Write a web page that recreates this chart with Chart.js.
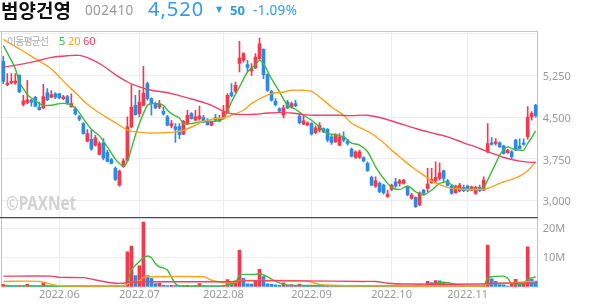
<!DOCTYPE html>
<html><head><meta charset="utf-8">
<script src="https://cdn.jsdelivr.net/npm/chart.js@4.4.1/dist/chart.umd.min.js"></script>
<style>
html,body{margin:0;padding:0;background:#fff;width:594px;height:304px;overflow:hidden;font-family:'Noto Sans','Noto Sans CJK KR',sans-serif;}
#wrap{position:relative;width:594px;height:304px;}
canvas{position:absolute;left:0;}
#c1{top:0;} #c2{top:217px;}
.t{position:absolute;white-space:nowrap;line-height:1;}
</style></head><body>
<div id="wrap">
<canvas id="c1" width="594" height="217"></canvas>
<canvas id="c2" width="594" height="87"></canvas>
<div class="t" style="left:1px;top:0px;font-size:19px;font-weight:bold;color:#111;font-family:'Noto Sans CJK KR'">범양건영</div>
<div class="t" style="left:85px;top:4px;font-size:13.5px;color:#999;letter-spacing:0.4px">002410</div>
<div class="t" style="left:148px;top:-1px;font-size:20px;color:#2f9bef;letter-spacing:1px">4,520</div>
<div class="t" style="left:216px;top:6px;font-size:8px;color:#2f9bef;font-family:'DejaVu Sans'">▼</div>
<div class="t" style="left:230px;top:4px;font-size:13px;font-weight:bold;color:#2f9bef">50</div>
<div class="t" style="left:253px;top:4px;font-size:13.5px;color:#2f9bef;letter-spacing:0.3px">-1.09%</div>
<div class="t" style="left:7px;top:36px;font-size:10px;color:#aaa;letter-spacing:-1px;font-family:'Noto Sans CJK KR'">이동평균선</div>
<div class="t" style="left:59px;top:35px;font-size:11px;color:#3cba3c">5</div>
<div class="t" style="left:68px;top:35px;font-size:11px;color:#fba21c">20</div>
<div class="t" style="left:83px;top:35px;font-size:11px;color:#f0406a">60</div>
<div class="t" style="left:6px;top:194px;font-size:19px;font-weight:bold;color:#d2d2d2;transform:scaleX(0.8);transform-origin:left top">©PAXNet</div>
</div>
<script>
// ---- data ----
const FIRST_DAY = '2022-05-12';
const HOLIDAYS = ['2022-06-01','2022-06-06','2022-08-15','2022-09-09','2022-09-12','2022-10-03','2022-10-10'];

const opens = [5500,5083,5112,5112,5250,4730,4760,4800,4856,4676,
4665,4940,4856,4916,4916,4832,4868,4683,4653,4503,
4384,4067,4103,3996,3829,4040,3870,3740,3579,3281,
3609,3728,4324,4712,4563,4712,5100,4832,4730,4682,
4605,4503,4342,4325,4330,4193,4384,4563,4444,4473,
4491,4426,4354,4485,4473,4473,4593,4939,4963,5465,
5518,5441,5327,5381,5548,5715,5262,4963,4784,4653,
4533,4772,4682,4742,4520,4373,4355,4385,4223,4265,
4294,4282,4145,4056,3996,4145,4068,3920,3776,3776,
3776,3669,3418,3263,3311,3281,3072,3203,3340,3311,
3311,3239,3042,3060,2923,3191,3221,3322,3358,3400,
3537,3358,3263,3143,3179,3239,3263,3191,3131,3239,
3191,3877,4039,4027,4039,3979,3860,3878,4087,3979,
4039,4150,4505,4710];
const highs = [5596,5280,5280,5280,5262,4890,5160,4820,4874,4772,
5088,5010,4975,4940,4927,4892,4892,4920,4683,4533,
4402,4276,4265,4175,4056,4115,3906,3760,3609,3549,
3758,4503,5082,4891,4981,5411,5130,4844,4772,4802,
4682,4533,4444,4384,4384,4444,4623,4581,4623,4700,
4533,4473,4426,4551,4533,4712,4921,5100,5130,5858,
5656,5518,5459,5638,5918,5727,5280,4981,4832,4665,
4712,4802,4772,4802,4560,4533,4414,4402,4342,4402,
4306,4294,4175,4205,4205,4235,4103,3948,3896,3907,
3788,3698,3442,3430,3340,3300,3191,3299,3400,3382,
3382,3251,3131,3072,3161,3203,3579,3579,3699,3681,
3549,3382,3281,3281,3311,3281,3281,3263,3263,3281,
3430,4386,4134,4116,4057,3997,3920,3900,4100,4110,
4110,4690,4600,4730];
const lows = [5100,5060,5094,5088,4940,4700,4742,4695,4683,4623,
4652,4796,4843,4832,4832,4814,4730,4677,4533,4438,
4193,4056,3906,3978,3817,3730,3697,3660,3358,3263,
3597,3709,4306,4533,4503,4700,4802,4533,4653,4653,
4533,4342,4306,4045,4115,4187,4366,4461,4432,4444,
4402,4354,4342,4432,4414,4461,4581,4861,4939,5309,
5488,5309,5250,5369,5536,5190,4963,4784,4700,4581,
4485,4653,4665,4688,4380,4366,4345,4175,4205,4235,
4223,4056,4008,4044,3984,4056,3996,3787,3758,3758,
3698,3525,3269,3239,3143,3119,3060,3179,3239,3263,
3299,3084,3030,2881,2905,3102,3161,3311,3322,3370,
3340,3263,3119,3131,3161,3161,3161,3179,3113,3161,
3179,3859,3997,3997,3955,3836,3848,3760,3900,3925,
3995,4099,4445,4500];
const closes = [5140,5112,5142,5148,4950,4790,4808,4770,4695,4635,
4868,4814,4904,4856,4844,4862,4748,4742,4557,4462,
4205,4205,3924,4127,4026,3770,3705,3670,3382,3531,
3717,4324,4682,4545,4772,4933,4832,4742,4665,4730,
4557,4354,4384,4278,4185,4426,4533,4473,4503,4521,
4414,4366,4414,4444,4426,4593,4891,4879,5070,5560,
5638,5393,5369,5578,5817,5262,4981,4802,4724,4605,
4665,4665,4742,4700,4400,4433,4397,4200,4310,4354,
4235,4086,4044,4187,4145,4086,4026,3800,3878,3878,
3716,3537,3281,3358,3161,3143,3119,3281,3263,3358,
3370,3102,3102,2893,3143,3131,3299,3382,3418,3502,
3400,3275,3131,3263,3281,3179,3191,3251,3239,3179,
3370,4027,4009,4057,3967,3848,3908,3788,3908,3937,
4009,4500,4570,4520];
// volume in millions of shares
const volumes = [0.9,0.5,0.4,0.4,0.5,0.4,0.9,0.4,0.4,0.4,
1.4,0.5,0.4,0.3,0.3,0.3,0.4,0.3,0.4,0.3,
0.4,0.4,0.4,0.3,0.4,0.3,0.3,0.3,0.6,0.4,
0.5,12.0,14.0,3.9,7.2,22.2,3.9,3.0,1.2,1.3,
0.6,0.5,0.6,0.5,0.4,0.5,0.6,0.4,0.5,1.2,
0.5,0.4,0.4,0.4,0.3,0.5,2.5,1.8,2.1,12.6,
3.0,1.1,1.0,2.1,6.0,3.6,1.1,0.9,0.7,0.6,
1.4,0.6,0.7,0.6,1.0,0.6,0.5,0.6,0.5,0.4,
0.4,0.5,0.4,0.5,0.4,0.3,0.3,0.4,0.3,0.3,
0.3,0.3,0.6,0.6,0.5,0.4,0.3,0.3,0.3,0.3,
0.3,0.3,0.3,0.7,0.8,0.5,1.9,1.5,2.2,2.1,
1.5,0.9,0.6,0.6,0.5,0.4,0.4,0.4,0.5,0.4,
0.5,14.3,2.8,1.9,0.8,0.7,0.3,0.9,2.6,0.9,
1.1,13.7,2.6,2.0];

// moving-average lines: [candle index, value]
const ma5 = [[0,5787],[2,5518],[3,5369],[4,5130],[5,5011],[6,4903],[7,4844],[8,4796],[9,4742],[10,4715],[12,4712],[14,4742],[16,4742],[17,4712],[18,4665],[19,4581],[20,4473],[22,4282],[24,4163],[26,3966],[28,3745],[29,3667],[30,3620],[31,3709],[32,3936],[33,4175],[34,4384],[35,4563],[36,4712],[37,4742],[38,4742],[39,4742],[40,4712],[41,4623],[42,4563],[43,4521],[44,4485],[45,4384],[47,4384],[49,4414],[51,4426],[53,4426],[55,4473],[57,4772],[59,5041],[61,5309],[63,5441],[64,5518],[65,5459],[67,5190],[69,4951],[71,4712],[73,4641],[75,4533],[77,4444],[79,4324],[81,4205],[83,4187],[85,4145],[87,4035],[89,3997],[91,3878],[93,3609],[95,3400],[97,3239],[99,3203],[101,3263],[103,3161],[105,3101],[107,3191],[109,3310],[111,3334],[113,3239],[115,3203],[117,3203],[119,3203],[120,3239],[121,3370],[122,3520],[123,3669],[124,3818],[125,3919],[126,3967],[127,3937],[129,3907],[130,3907],[131,4027],[132,4134],[133,4254]];
const ma20 = [[0,5894],[4,5727],[8,5548],[11,5417],[13,5297],[16,5071],[18,4939],[21,4730],[23,4623],[26,4485],[28,4402],[31,4265],[33,4235],[36,4217],[39,4217],[41,4223],[43,4235],[45,4265],[48,4354],[50,4426],[53,4473],[55,4485],[57,4533],[60,4623],[62,4742],[65,4862],[67,4921],[70,4951],[72,4981],[75,4981],[77,4963],[79,4862],[82,4682],[85,4533],[87,4390],[90,4278],[92,4206],[95,4039],[97,3908],[100,3728],[102,3609],[105,3460],[107,3352],[110,3263],[112,3221],[115,3203],[117,3203],[120,3203],[121,3221],[123,3281],[125,3340],[127,3382],[129,3442],[131,3537],[133,3699]];
const ma60 = [[0,5399],[4,5441],[8,5500],[12,5572],[16,5602],[19,5608],[22,5536],[25,5417],[28,5262],[31,5130],[34,5041],[37,4981],[40,4951],[43,4903],[46,4844],[49,4784],[52,4712],[55,4605],[57,4563],[60,4545],[63,4551],[66,4575],[69,4581],[72,4575],[75,4545],[78,4533],[81,4533],[84,4533],[87,4527],[91,4534],[95,4475],[99,4385],[103,4296],[107,4218],[111,4146],[115,4039],[119,3937],[121,3878],[123,3830],[125,3776],[127,3740],[129,3710],[131,3693],[133,3687]];
const vma5 = [[0,0.6],[2,0.4],[30,0.4],[31,1.2],[32,5.8],[34,8.7],[35,10.0],[36,10.6],[37,10.0],[38,8.0],[39,6.9],[40,6.5],[41,5.8],[42,3.4],[43,1.1],[44,0.4],[55,0.4],[56,0.8],[57,1.0],[58,1.5],[59,3.9],[60,4.3],[63,4.3],[64,4.6],[65,4.1],[66,3.5],[67,2.7],[68,2.0],[69,1.4],[70,0.9],[72,0.6],[74,0.5],[105,0.4],[106,0.8],[108,1.3],[110,1.6],[112,1.2],[114,0.6],[116,0.4],[120,0.5],[121,3.1],[122,3.5],[125,3.7],[126,3.0],[127,1.2],[129,1.0],[130,1.2],[131,2.7],[132,3.1],[133,3.4]];
const vma20 = [[0,1.9],[9,1.9],[13,0.6],[15,0.4],[30,0.4],[31,1.0],[32,1.7],[34,2.1],[35,3.3],[36,3.5],[50,3.5],[51,3.0],[52,2.3],[55,1.5],[58,1.6],[59,2.2],[70,2.2],[74,2.1],[76,2.0],[79,0.9],[82,0.6],[88,0.4],[120,0.4],[121,1.1],[125,1.3],[131,1.8],[133,1.9]];
const vma60 = [[0,3.7],[12,3.7],[14,3.3],[20,3.2],[22,2.7],[25,1.9],[28,1.3],[30,1.3],[31,1.6],[35,1.8],[56,1.8],[58,1.9],[60,2.1],[74,2.1],[90,1.9],[93,1.9],[96,1.3],[100,1.0],[120,1.0],[122,1.3],[133,1.3]];

const priceTicks = [3000,3750,4500,5250,6000];
const priceTickLabels = ['3,000','3,750','4,500','5,250',''];
const volTicks = [0,10,20];
const volTickLabels = ['','10M','20M'];

// ---- styles ----
const UP='#f23a4c', DOWN='#2c8ae6', C5='#3cba3c', C20='#fba21c', C60='#f0406a';
const GRID='#ececec', AXIS='#c4c4c4', TXT='#999';
const FONT="'Noto Sans','Noto Sans CJK KR',sans-serif";

function tradingDays(start, n, hol){
  const out=[]; const d=new Date(start+'T00:00:00Z');
  while(out.length<n){
    const dow=d.getUTCDay(); const iso=d.toISOString().slice(0,10);
    if(dow!==0 && dow!==6 && !hol.includes(iso)) out.push(iso.replace(/-/g,'.'));
    d.setUTCDate(d.getUTCDate()+1);
  }
  return out;
}
const labels = tradingDays(FIRST_DAY, opens.length, HOLIDAYS);
const monthLabel = labels.map((l,i)=> i>0 && l.slice(0,7)!==labels[i-1].slice(0,7) ? l.slice(0,7) : '');

const candleColor = closes.map((c,i)=> c>=opens[i] ? UP : DOWN);
const volColor = volumes.map((v,i)=> i===0 || v>volumes[i-1] ? UP : DOWN);
const pts = arr => arr.map(([i,v])=>({x:labels[i], y:v}));
const lineDs = (arr,color) => ({type:'line', data:pts(arr), borderColor:color, borderWidth:1.4,
  pointRadius:0, tension:0.25, fill:false, order:0});

const xGridColor = c => monthLabel[c.index] ? GRID : 'rgba(0,0,0,0)';
const noPad = s => { s.paddingTop = 0; s.paddingBottom = 0; s.paddingLeft = 0; s.paddingRight = 0; };

const framePlugin = {
  id:'frame',
  beforeDatasetsDraw(chart, args, opts){
    const {ctx, chartArea:a} = chart;
    ctx.save();
    ctx.strokeStyle = AXIS; ctx.lineWidth = 1;
    ctx.beginPath();
    ctx.moveTo(Math.round(a.left)+0.5, a.top); ctx.lineTo(Math.round(a.left)+0.5, a.bottom);
    if(opts.top){ ctx.moveTo(0, a.top+0.5); ctx.lineTo(a.right, a.top+0.5); }
    ctx.stroke();
    ctx.restore();
  },
  afterDraw(chart, args, opts){
    if(!opts.sep) return;
    const {ctx, chartArea:a} = chart;
    ctx.save();
    ctx.strokeStyle = '#4a4a4a'; ctx.lineWidth = 1.3;
    ctx.beginPath(); ctx.moveTo(0, a.top+0.6); ctx.lineTo(a.right, a.top+0.6); ctx.stroke();
    ctx.restore();
  }
};

const common = {
  responsive:false, animation:false, devicePixelRatio:1, events:[],
  plugins:{legend:{display:false}, tooltip:{enabled:false}},
};

new Chart(document.getElementById('c1'), {
  type:'bar',
  data:{labels, datasets:[
    lineDs(ma60, C60), lineDs(ma20, C20), lineDs(ma5, C5),
    {data: lows.map((l,i)=>[l, highs[i]]), backgroundColor:candleColor, barThickness:1, grouped:false, order:3},
    {data: opens.map((o,i)=>[o, closes[i]]), backgroundColor:candleColor, barThickness:3, minBarLength:1, grouped:false, order:2}
  ]},
  options:{...common,
    layout:{padding:{left:1.3, top:31, right:0, bottom:0}},
    plugins:{...common.plugins, frame:{top:true}},
    scales:{
      x:{type:'category', offset:true, grid:{offset:false, drawTicks:false, color:xGridColor},
         ticks:{display:false}, border:{display:false}, afterFit:s=>{s.height=0; noPad(s);}},
      y:{position:'right', min:2708, max:6045,
         afterBuildTicks:s=>{s.ticks = priceTicks.map(v=>({value:v}));},
         afterFit:s=>{s.width=56.3; noPad(s);},
         grid:{color:GRID, drawTicks:false}, border:{display:true, color:AXIS},
         ticks:{padding:5, labelOffset:1.5, color:TXT, font:{size:11, family:FONT}, callback:(v,i)=>priceTickLabels[i]}}
    }
  },
  plugins:[framePlugin]
});

new Chart(document.getElementById('c2'), {
  type:'bar',
  data:{labels, datasets:[
    lineDs(vma60, C60), lineDs(vma20, C20), lineDs(vma5, C5),
    {data: volumes, backgroundColor:volColor, barThickness:3, grouped:false, order:2}
  ]},
  options:{...common,
    layout:{padding:{left:1.3, top:0, right:0, bottom:0}},
    plugins:{...common.plugins, frame:{sep:true}},
    scales:{
      x:{type:'category', offset:true, grid:{offset:false, drawTicks:false, color:xGridColor},
         border:{display:false},
         ticks:{autoSkip:false, maxRotation:0, minRotation:0, padding:1, color:TXT, font:{size:11, family:FONT},
                callback:(v,i)=>monthLabel[i]},
         afterFit:s=>{s.height=17; noPad(s);}},
      y:{position:'right', min:0, max:23.9,
         afterBuildTicks:s=>{s.ticks = volTicks.map(v=>({value:v}));},
         afterFit:s=>{s.width=56.3; noPad(s);},
         grid:{color:GRID, drawTicks:false}, border:{display:true, color:AXIS},
         ticks:{padding:5, color:TXT, font:{size:11, family:FONT}, callback:(v,i)=>volTickLabels[i]}}
    }
  },
  plugins:[framePlugin]
});
</script>
</body></html>
